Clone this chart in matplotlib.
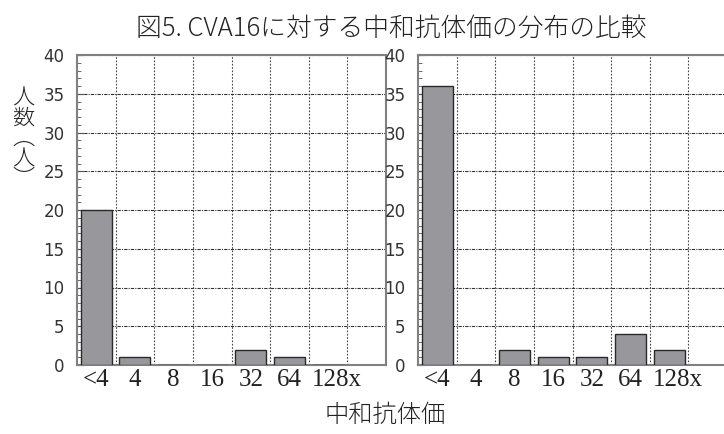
import numpy as np
import matplotlib.pyplot as plt
import matplotlib.transforms as mtransforms
from matplotlib.ticker import MultipleLocator

# Neutralizing antibody titer categories and counts per group
titers = ['<4', '4', '8', '16', '32', '64', '128x']
counts_left = [20, 1, 0, 0, 2, 1, 0]
counts_right = [36, 0, 2, 1, 1, 4, 2]

jp_font = ['Noto Sans CJK JP', 'DejaVu Sans']
plt.rcParams['font.family'] = jp_font

fig = plt.figure(figsize=(7.24, 4.34), dpi=100)

ax_left = fig.add_axes([77 / 724, 69 / 434, 309 / 724, 310 / 434])
ax_right = fig.add_axes([418 / 724, 69 / 434, 309 / 724, 310 / 434])


def draw_panel(ax, counts):
    x = np.arange(len(counts)) + 0.5
    ax.bar(x, counts, width=0.8, color='#98989c', edgecolor='#2a2a2a',
           linewidth=1.0, zorder=3)

    ax.set_xlim(0, 8)
    ax.set_ylim(0, 40)

    # category labels in the middle of each column
    ax.set_xticks(x)
    ax.set_xticklabels(titers, fontsize=18,
                       family=['Liberation Serif', 'Noto Sans CJK JP'],
                       color='#222222')
    ax.tick_params(axis='x', which='major', length=0, pad=3)
    # the last label sits a little to the right of its column
    last = ax.get_xticklabels()[-1]
    last.set_transform(last.get_transform() +
                       mtransforms.ScaledTranslation(9 / 100, 0, fig.dpi_scale_trans))

    # column boundaries carry the vertical grid
    ax.set_xticks(np.arange(1, 8), minor=True)
    ax.tick_params(axis='x', which='minor', length=0)

    ax.yaxis.set_major_locator(MultipleLocator(5))
    ax.yaxis.set_minor_locator(MultipleLocator(1))
    ax.tick_params(axis='y', which='major', direction='in', length=5,
                   width=0.8, color='#555555', labelsize=12, pad=9,
                   labelcolor='#333333')
    for lbl in ax.get_yticklabels():
        lbl.set_family(['Liberation Sans Narrow', 'DejaVu Sans'])
    ax.tick_params(axis='y', which='minor', direction='in', length=3,
                   width=0.6, color='#555555')

    ax.grid(axis='x', which='minor', color='#444444', linestyle=(0, (1.5, 1.5)),
            linewidth=0.8, zorder=1)
    ax.grid(axis='y', which='major', color='#333333', linestyle=(0, (3, 1, 1, 1)),
            linewidth=0.8, zorder=1)

    for spine in ax.spines.values():
        spine.set_color('#808080')
        spine.set_linewidth(1.5)


draw_panel(ax_left, counts_left)
draw_panel(ax_right, counts_right)

fig.text(0.54, 0.935, '図5. CVA16に対する中和抗体価の分布の比較', ha='center',
         va='center', fontsize=18.5, color='#222222', fontweight='light')

fig.text(0.032, 0.68, '人\n数\n︵\n人\n︶', ha='center', va='center',
         fontsize=16, color='#222222', linespacing=0.9, fontweight='light')

fig.text(0.532, 0.042, '中和抗体価', ha='center', va='center',
         fontsize=17.5, color='#222222', fontweight='light')

plt.savefig('out.png', dpi=100)
